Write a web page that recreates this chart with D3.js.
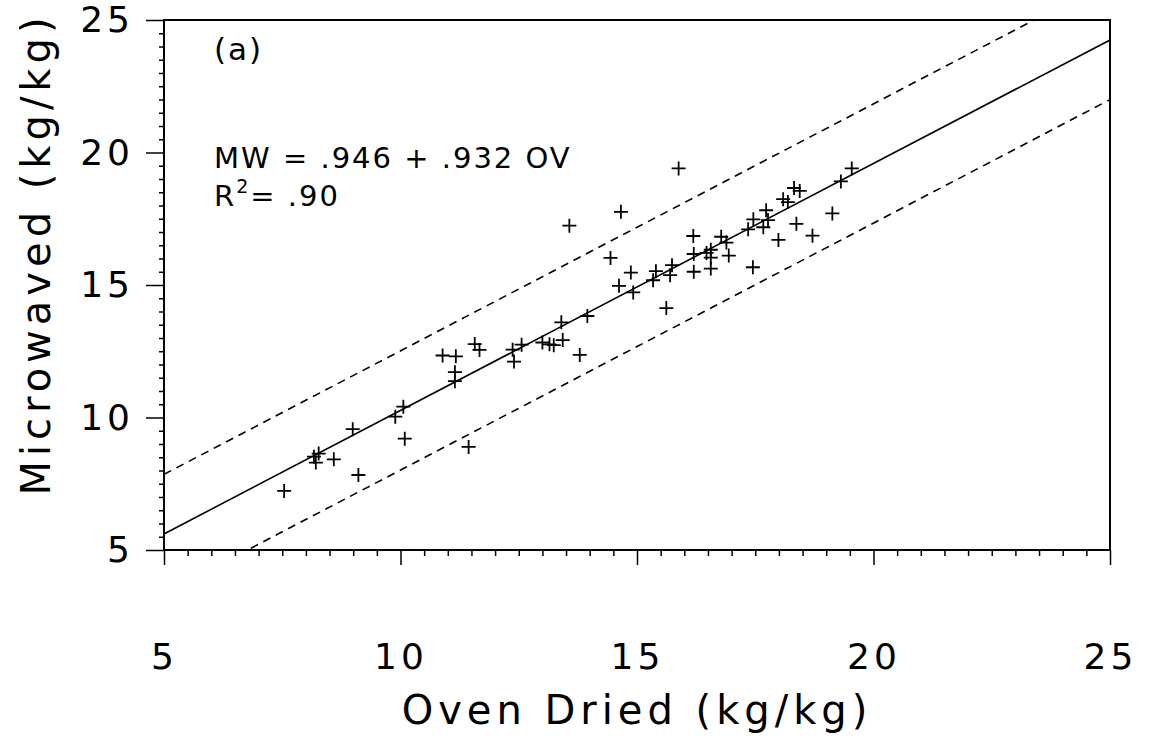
<!DOCTYPE html>
<html>
<head>
<meta charset="utf-8">
<script src="https://cdn.jsdelivr.net/npm/d3@7"></script>
<style>
  body { margin: 0; background: #fff; }
  text { font-family: "DejaVu Sans", sans-serif; fill: #000; }
</style>
</head>
<body>
<div id="chart"></div>
<script>
// oven dried vs microwaved moisture
const ovenDried = [7.54, 8.17, 8.27, 8.21, 8.59, 8.99, 9.11, 9.89, 10.06, 10.09,
  10.89, 11.17, 11.15, 11.15, 11.44, 11.57, 11.67, 12.37, 12.40, 12.56,
  13.00, 13.15, 13.24, 13.43, 13.40, 13.79, 13.57, 13.95, 14.66, 14.44,
  14.62, 14.87, 14.92, 15.88, 15.34, 15.40, 15.62, 15.70, 15.74, 16.19,
  16.20, 16.20, 16.47, 16.56, 16.56, 16.56, 16.78, 16.89, 16.94, 17.35,
  17.46, 17.45, 17.67, 17.73, 17.77, 17.99, 18.09, 18.19, 18.32, 18.44,
  18.37, 18.71, 19.13, 19.31, 19.54];
const microwaved = [7.23, 8.52, 8.64, 8.30, 8.42, 9.56, 7.83, 10.03, 10.41, 9.20,
  12.34, 12.31, 11.71, 11.37, 8.89, 12.77, 12.55, 12.56, 12.11, 12.75,
  12.83, 12.76, 12.73, 12.92, 13.59, 12.36, 17.24, 13.83, 17.76, 16.02,
  14.97, 15.47, 14.72, 19.40, 15.18, 15.52, 14.13, 15.37, 15.75, 16.85,
  16.17, 15.50, 16.21, 16.33, 15.62, 16.03, 16.82, 16.60, 16.11, 17.10,
  17.48, 15.67, 17.18, 17.82, 17.45, 16.70, 18.24, 18.13, 18.66, 18.55,
  17.31, 16.86, 17.70, 18.91, 19.40];

const majorTicks = [5, 10, 15, 20, 25];
const intercept = 0.946, slope = 0.932, band = 2.25;

const W = 1152, H = 740;
const mLeft = 164, mRight = 1110, mTop = 20, mBottom = 550;

const svg = d3.select("#chart").append("svg")
  .attr("width", W).attr("height", H);

const x = d3.scaleLinear().domain([5, 25]).range([mLeft, mRight]);
const y = d3.scaleLinear().domain([5, 25]).range([mBottom, mTop]);

const minor = d3.range(5, 25.001, 0.5).filter(v => v % 5 !== 0);

svg.append("defs").append("clipPath").attr("id", "clip")
  .append("rect").attr("x", mLeft).attr("y", mTop)
  .attr("width", mRight - mLeft).attr("height", mBottom - mTop);

// frame
svg.append("rect")
  .attr("x", mLeft).attr("y", mTop)
  .attr("width", mRight - mLeft).attr("height", mBottom - mTop)
  .attr("fill", "none").attr("stroke", "#000").attr("stroke-width", 2);

// x axis
const xMinor = svg.append("g").attr("transform", `translate(0,${mBottom})`)
  .call(d3.axisBottom(x).tickValues(minor).tickSize(6).tickFormat(""));
const xMajor = svg.append("g").attr("transform", `translate(0,${mBottom})`)
  .call(d3.axisBottom(x).tickValues(majorTicks).tickSize(15).tickPadding(78).tickFormat(d3.format("d")));

// y axis
const yMinor = svg.append("g").attr("transform", `translate(${mLeft},0)`)
  .call(d3.axisLeft(y).tickValues(minor).tickSize(5).tickFormat(""));
const yMajor = svg.append("g").attr("transform", `translate(${mLeft},0)`)
  .call(d3.axisLeft(y).tickValues(majorTicks).tickSize(18).tickPadding(12).tickFormat(d3.format("d")));

[xMinor, xMajor, yMinor, yMajor].forEach(g => {
  g.select(".domain").remove();
  g.selectAll("line").attr("stroke", "#000").attr("stroke-width", 1.5);
});
[xMajor, yMajor].forEach(g => {
  g.selectAll("text")
    .style("font-size", "36px")
    .style("letter-spacing", "4px")
    .attr("fill", "#000");
});

// fit line and dashed band
const plot = svg.append("g").attr("clip-path", "url(#clip)");

function drawLine(off, dash) {
  plot.append("path")
    .datum([5, 25])
    .attr("d", d3.line().x(d => x(d)).y(d => y(intercept + slope * d + off)))
    .attr("fill", "none")
    .attr("stroke", "#000")
    .attr("stroke-width", 1.6)
    .attr("stroke-dasharray", dash);
}
drawLine(0, null);
drawLine(band, "8,6");
drawLine(-band, "8,6");

// points as plus marks
const pts = ovenDried.map((v, i) => [v, microwaved[i]]);
plot.selectAll("path.pt")
  .data(pts)
  .enter()
  .append("path")
  .attr("class", "pt")
  .attr("transform", d => `translate(${x(d[0])},${y(d[1])})`)
  .attr("d", "M-7,0H7M0,-7V7")
  .attr("stroke", "#000")
  .attr("stroke-width", 1.8)
  .attr("fill", "none");

// annotations
svg.append("text").attr("x", 214).attr("y", 60)
  .style("font-size", "31px").style("letter-spacing", "2px").text("(a)");
svg.append("text").attr("x", 214).attr("y", 168)
  .style("font-size", "29px").style("letter-spacing", "2px")
  .text("MW = .946 + .932 OV");
const r2 = svg.append("text").attr("x", 214).attr("y", 206)
  .style("font-size", "29px").style("letter-spacing", "2px");
r2.append("tspan").text("R");
r2.append("tspan").attr("dy", -13).style("font-size", "19px").text("2");
r2.append("tspan").attr("dy", 13).text("= .90");

// axis titles
svg.append("text")
  .attr("x", (mLeft + mRight) / 2).attr("y", 724)
  .attr("text-anchor", "middle")
  .style("font-size", "40px").style("letter-spacing", "5px")
  .text("Oven Dried (kg/kg)");
svg.append("text")
  .attr("transform", `translate(50,254) rotate(-90)`)
  .attr("text-anchor", "middle")
  .style("font-size", "40px").style("letter-spacing", "5px")
  .text("Microwaved (kg/kg)");
</script>
</body>
</html>
